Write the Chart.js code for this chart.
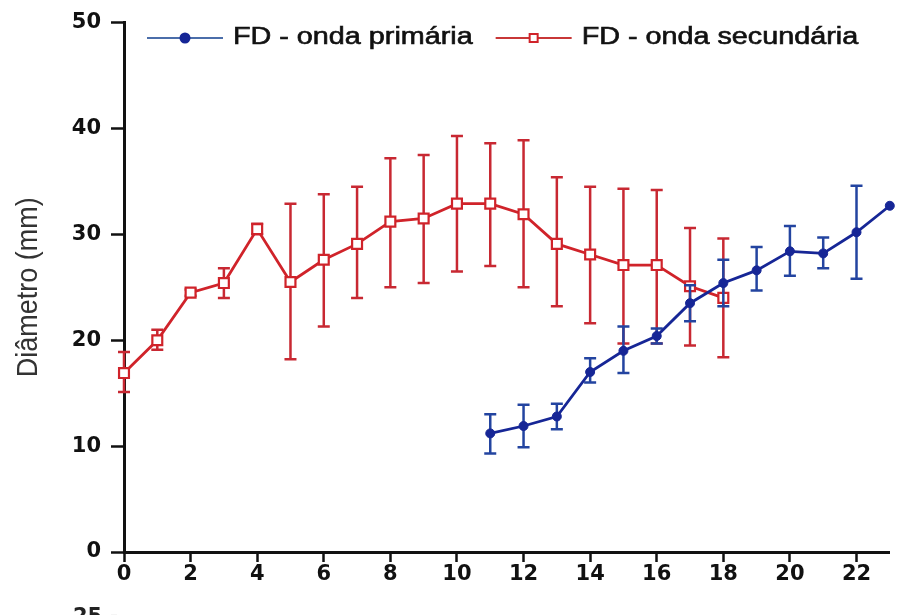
<!DOCTYPE html>
<html>
<head>
<meta charset="utf-8">
<script src="https://cdn.jsdelivr.net/npm/chart.js@4.4.1/dist/chart.umd.min.js"></script>
<style>
html, body { margin: 0; padding: 0; background: #fff; }
#wrap { width: 899px; height: 615px; }
</style>
</head>
<body>
<div id="wrap"><canvas id="myChart"></canvas></div>
<script>
// labels
var primaryLabel = 'FD - onda primária';
var secondaryLabel = 'FD - onda secundária';
var yTitle = 'Diâmetro (mm)';
var nextPanelText = '25 -';

// onda secundaria (red, open squares)
var secondaryDays = [0, 1, 2, 3, 4, 5, 6, 7, 8, 9, 10, 11, 12, 13, 14, 15, 16, 17, 18];
var secondaryMean = [16.9, 20.0, 24.5, 25.4, 30.5, 25.5, 27.6, 29.1, 31.2, 31.5, 32.9, 32.9, 31.9, 29.1, 28.1, 27.1, 27.1, 25.1, 24.0];
var secondaryHigh = [18.9, 21.0, 24.8, 26.8, 31.0, 32.9, 33.8, 34.5, 37.2, 37.5, 39.3, 38.6, 38.9, 35.4, 34.5, 34.3, 34.2, 30.6, 29.6];
var secondaryLow  = [15.1, 19.1, 24.2, 24.0, 30.0, 18.2, 21.3, 24.0, 25.0, 25.4, 26.5, 27.0, 25.0, 23.2, 21.6, 19.7, 19.7, 19.5, 18.4];

// onda primaria (blue, filled dots)
var primaryDays = [11, 12, 13, 14, 15, 16, 17, 18, 19, 20, 21, 22, 23];
var primaryMean = [11.2, 11.9, 12.8, 17.0, 19.0, 20.4, 23.5, 25.4, 26.6, 28.4, 28.2, 30.2, 32.7];
var primaryHigh = [13.0, 13.9, 14.0, 18.3, 21.3, 21.1, 25.2, 27.6, 28.8, 30.8, 29.7, 34.6, null];
var primaryLow  = [9.3, 9.9, 11.6, 16.0, 16.9, 19.7, 21.8, 23.2, 24.7, 26.1, 26.8, 25.8, null];

// axes
var xMin = 0, xMax = 23, xStep = 2;
var yMin = 0, yMax = 50, yStep = 10;

var blue = 'rgb(22,38,150)';
var red = 'rgb(208,35,42)';
var txtFont = '"Liberation Sans", Arial, sans-serif';
var stretch = 1.25;

function toPoints(xs, ys) {
    var pts = [];
    for (var i = 0; i < xs.length; i++) {
        pts.push({ x: xs[i], y: ys[i] });
    }
    return pts;
}

// vertical error bars, drawn just under their own dataset
var errorBars = {
    id: 'errorBars',
    beforeDatasetDraw: function (chart, args) {
        var ds = chart.data.datasets[args.index];
        if (!ds.errHigh) return;
        var xs = chart.scales.x, ys = chart.scales.y, ctx = chart.ctx;
        ctx.save();
        ctx.strokeStyle = ds.errColor;
        ctx.lineWidth = 2.5;
        ds.data.forEach(function (p, i) {
            var hi = ds.errHigh[i], lo = ds.errLow[i];
            if (hi == null || lo == null) return;
            var px = xs.getPixelForValue(p.x);
            var ph = ys.getPixelForValue(hi);
            var pl = ys.getPixelForValue(lo);
            ctx.beginPath();
            ctx.moveTo(px, ph); ctx.lineTo(px, pl);
            ctx.moveTo(px - 6, ph); ctx.lineTo(px + 6, ph);
            ctx.moveTo(px - 6, pl); ctx.lineTo(px + 6, pl);
            ctx.stroke();
        });
        ctx.restore();
    }
};

function stretchedText(ctx, text, x, y) {
    ctx.save();
    ctx.translate(x, y);
    ctx.scale(stretch, 1);
    ctx.lineWidth = 0.6;
    ctx.strokeStyle = ctx.fillStyle;
    ctx.fillText(text, 0, 0);
    ctx.strokeText(text, 0, 0);
    ctx.restore();
    return ctx.measureText(text).width * stretch;
}

// legend, axis title and the cut-off label of the next panel
var textLayer = {
    id: 'textLayer',
    afterDraw: function (chart) {
        var ctx = chart.ctx, area = chart.chartArea;
        ctx.save();
        ctx.font = '23px ' + txtFont;
        ctx.textBaseline = 'middle';

        var ly = 38;
        var lx = area.left + 23;
        var items = [
            { label: primaryLabel, line: 'rgb(75,110,170)', ds: chart.data.datasets[0] },
            { label: secondaryLabel, line: 'rgb(200,55,55)', ds: chart.data.datasets[1] }
        ];
        items.forEach(function (it) {
            ctx.strokeStyle = it.line;
            ctx.lineWidth = 2;
            ctx.beginPath();
            ctx.moveTo(lx, ly); ctx.lineTo(lx + 76, ly);
            ctx.stroke();
            ctx.fillStyle = it.ds.pointBackgroundColor;
            ctx.strokeStyle = it.ds.borderColor;
            ctx.beginPath();
            if (it.ds.pointStyle === 'rect') {
                ctx.rect(lx + 34, ly - 4, 8, 8);
            } else {
                ctx.arc(lx + 38, ly, 4.5, 0, Math.PI * 2);
            }
            ctx.fill();
            ctx.stroke();
            ctx.fillStyle = '#111';
            var w = stretchedText(ctx, it.label, lx + 86, ly);
            lx = lx + 86 + w + 23;
        });

        // y title
        ctx.fillStyle = '#333';
        ctx.font = '27px ' + txtFont;
        ctx.textAlign = 'center';
        ctx.translate(29, (area.top + area.bottom) / 2);
        ctx.scale(1.12, 1);
        ctx.rotate(-Math.PI / 2);
        ctx.fillText(yTitle, 0, 0);
        ctx.restore();

        // top of the next figure, cut by the picture edge
        ctx.save();
        ctx.font = 'bold 21px "DejaVu Sans", sans-serif';
        ctx.fillStyle = '#222';
        ctx.textBaseline = 'top';
        ctx.fillText(nextPanelText, 73, 607);
        ctx.restore();
    }
};

var tickFont = { family: '"DejaVu Sans", sans-serif', size: 21, weight: 'bold' };

var ctx = document.getElementById('myChart').getContext('2d');
var chart = new Chart(ctx, {
    type: 'line',
    data: {
        datasets: [{
            label: primaryLabel,
            data: toPoints(primaryDays, primaryMean),
            errHigh: primaryHigh,
            errLow: primaryLow,
            errColor: 'rgb(35,68,160)',
            borderColor: blue,
            backgroundColor: blue,
            pointBackgroundColor: blue,
            pointBorderColor: blue,
            pointStyle: 'circle',
            pointRadius: 4.5,
            pointBorderWidth: 1,
            borderWidth: 2.8,
            tension: 0,
            clip: false,
            order: 0
        }, {
            label: secondaryLabel,
            data: toPoints(secondaryDays, secondaryMean),
            errHigh: secondaryHigh,
            errLow: secondaryLow,
            errColor: 'rgb(200,40,50)',
            borderColor: red,
            backgroundColor: '#fff',
            pointBackgroundColor: '#fff',
            pointBorderColor: red,
            pointStyle: 'rect',
            pointRadius: 7,
            pointBorderWidth: 2.2,
            borderWidth: 2.8,
            tension: 0,
            clip: false,
            order: 1
        }]
    },
    options: {
        responsive: true,
        maintainAspectRatio: false,
        animation: false,
        events: [],
        layout: { padding: { top: 20, right: 6, left: 0, bottom: 0 } },
        plugins: {
            legend: { display: false },
            tooltip: { enabled: false }
        },
        scales: {
            x: {
                type: 'linear',
                min: xMin,
                max: xMax,
                afterFit: function (s) { s.height = 63; },
                ticks: { stepSize: xStep, includeBounds: false, maxRotation: 0, padding: 0, color: '#111', font: tickFont },
                grid: { display: true, drawOnChartArea: false, drawTicks: true, tickLength: 10, tickWidth: 2.5, tickColor: '#111' },
                border: { display: true, color: '#111', width: 3 }
            },
            y: {
                min: yMin,
                max: yMax,
                afterFit: function (s) { s.width = 124; },
                ticks: { stepSize: yStep, padding: 10, color: '#111', font: tickFont },
                grid: { display: true, drawOnChartArea: false, drawTicks: true, tickLength: 13, tickWidth: 2.5, tickColor: '#111' },
                border: { display: true, color: '#111', width: 3 }
            }
        }
    },
    plugins: [errorBars, textLayer]
});
</script>
</body>
</html>
